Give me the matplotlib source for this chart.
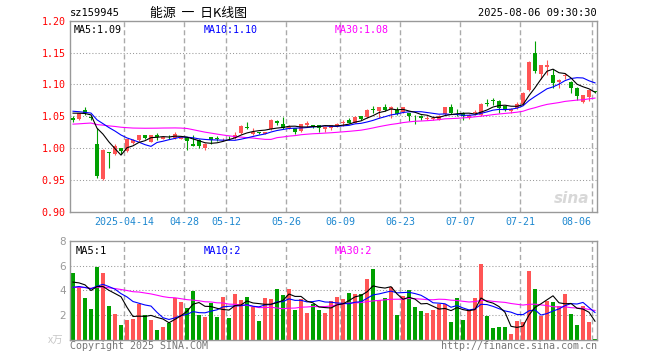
import numpy as np
import pandas as pd
import matplotlib
matplotlib.use("Agg")
import matplotlib.pyplot as plt

# ---------------- data ----------------
opens = [1.047, 1.0458, 1.0599, 1.049, 1.0065, 0.951, 0.994, 0.991, 1.000, 0.996,
         1.008, 1.0125, 1.021, 1.010, 1.021, 1.015, 1.018, 1.016, 1.015, 1.017,
         1.006, 1.013, 1.001, 1.017, 1.016, 1.014, 1.018, 1.016, 1.024, 1.034,
         1.022, 1.025, 1.023, 1.030, 1.042, 1.038, 1.031, 1.031, 1.027, 1.036,
         1.036, 1.036, 1.030, 1.032, 1.035, 1.040, 1.045, 1.040, 1.0505, 1.0495,
         1.061, 1.058, 1.065, 1.062, 1.060, 1.057, 1.0557, 1.051, 1.051, 1.046,
         1.046, 1.045, 1.053, 1.064, 1.054, 1.056, 1.048, 1.055, 1.052, 1.071,
         1.075, 1.074, 1.066, 1.058, 1.063, 1.070, 1.092, 1.149, 1.117, 1.128,
         1.1146, 1.104, 1.113, 1.104, 1.095, 1.073, 1.081, 1.089]
closes = [1.045, 1.0547, 1.0547, 1.047, 0.956, 0.998, 0.993, 1.003, 0.996, 1.014,
          1.013, 1.020, 1.016, 1.020, 1.017, 1.018, 1.017, 1.023, 1.018, 1.011,
          1.004, 1.003, 1.007, 1.0135, 1.015, 1.015, 1.017, 1.021, 1.035, 1.032,
          1.026, 1.024, 1.025, 1.044, 1.039, 1.031, 1.033, 1.026, 1.0375, 1.039,
          1.035, 1.032, 1.034, 1.036, 1.038, 1.041, 1.040, 1.0495, 1.046, 1.060,
          1.060, 1.064, 1.060, 1.064, 1.053, 1.064, 1.051, 1.050, 1.047, 1.047,
          1.047, 1.051, 1.064, 1.055, 1.053, 1.051, 1.052, 1.057, 1.070, 1.070,
          1.074, 1.0635, 1.060, 1.062, 1.069, 1.087, 1.135, 1.121, 1.130, 1.131,
          1.103, 1.107, 1.115, 1.095, 1.082, 1.083, 1.091, 1.088]
highs = [1.050, 1.055, 1.0646, 1.050, 1.031, 0.999, 0.994, 1.006, 1.000, 1.015,
         1.015, 1.021, 1.021, 1.021, 1.0235, 1.019, 1.021, 1.026, 1.019, 1.018,
         1.020, 1.014, 1.008, 1.017, 1.019, 1.016, 1.019, 1.025, 1.036, 1.0406,
         1.031, 1.026, 1.026, 1.046, 1.044, 1.049, 1.036, 1.032, 1.038, 1.042,
         1.036, 1.037, 1.035, 1.037, 1.039, 1.044, 1.048, 1.050, 1.051, 1.061,
         1.066, 1.065, 1.070, 1.066, 1.064, 1.065, 1.056, 1.052, 1.052, 1.050,
         1.049, 1.052, 1.065, 1.069, 1.061, 1.057, 1.053, 1.060, 1.071, 1.077,
         1.079, 1.075, 1.067, 1.063, 1.073, 1.088, 1.137, 1.168, 1.131, 1.138,
         1.125, 1.108, 1.118, 1.105, 1.096, 1.084, 1.092, 1.089]
lows = [1.041, 1.044, 1.052, 1.045, 0.9529, 0.950, 0.969, 0.990, 0.991, 0.994,
        1.006, 1.011, 1.015, 1.009, 1.013, 1.014, 1.015, 1.015, 1.014, 0.998,
        1.003, 1.001, 0.998, 1.007, 1.012, 1.012, 1.013, 1.015, 1.023, 1.0297,
        1.021, 1.022, 1.022, 1.029, 1.036, 1.030, 1.030, 1.022, 1.026, 1.034,
        1.031, 1.025, 1.026, 1.028, 1.034, 1.035, 1.039, 1.039, 1.045, 1.048,
        1.0557, 1.048, 1.059, 1.047, 1.052, 1.056, 1.042, 1.0375, 1.044, 1.045,
        1.045, 1.044, 1.052, 1.054, 1.051, 1.045, 1.046, 1.052, 1.051, 1.0667,
        1.068, 1.056, 1.058, 1.056, 1.062, 1.068, 1.090, 1.118, 1.109, 1.115,
        1.095, 1.094, 1.109, 1.086, 1.076, 1.071, 1.0745, 1.087]
volumes = [5.42, 4.29, 3.40, 2.52, 5.90, 5.42, 2.76, 2.12, 1.23, 1.64,
           1.72, 2.90, 2.01, 1.64, 0.83, 1.07, 1.39, 3.40, 3.08, 2.60,
           3.97, 2.04, 1.88, 3.00, 1.88, 3.49, 1.80, 3.70, 3.24, 3.49,
           2.68, 1.55, 3.40, 3.30, 4.10, 3.62, 4.10, 2.44, 3.30, 2.20,
           2.92, 2.44, 2.20, 3.14, 3.46, 3.30, 3.78, 3.70, 3.70, 4.91,
           5.71, 3.22, 3.38, 4.26, 2.01, 3.54, 4.02, 2.65, 2.33, 2.17,
           2.41, 2.90, 2.90, 1.45, 3.38, 1.61, 2.44, 3.38, 6.11, 1.96,
           0.97, 1.05, 1.05, 0.48, 1.53, 1.45, 5.55, 4.10, 1.96, 3.14,
           3.06, 2.73, 3.70, 2.09, 1.21, 2.73, 1.45, 0.08]
# sessions before the first visible bar (only feed the moving averages)
prior_close = [1.040, 1.035, 1.030, 1.028, 1.025, 1.028, 1.030, 1.032, 1.036,
               1.030, 1.025, 1.020, 1.018, 1.015, 1.012, 1.015, 1.020, 1.025,
               1.030, 1.060, 1.062, 1.065, 1.058, 1.062, 1.058,
               1.055, 1.057, 1.058, 1.060]
prior_vol = [4.5, 3.8, 4.2, 3.6, 4.4, 5.0, 3.9, 3.5, 4.1, 4.6, 3.7, 4.3, 3.9,
             4.0, 4.4, 3.6, 4.0, 5.4, 4.8, 5.2, 3.6, 4.2, 3.5, 3.9, 3.9,
             4.6, 4.2, 4.8, 4.3]
tick_idx = [9, 19, 26, 36, 45, 55, 65, 75, 87]
tick_labels = ["2025-04-14", "04-28", "05-12", "05-26", "06-09", "06-23",
               "07-07", "07-21", "08-06"]
price_ticks = [0.90, 0.95, 1.00, 1.05, 1.10, 1.15, 1.20]
vol_ticks = [2, 4, 6, 8]

# ---------------- style ----------------
RED = "#ff5555"
GREEN = "#00a000"
GRID = "#aaaaaa"
FRAME = "#999999"
MONO = "DejaVu Sans Mono"
CJK = ["Noto Sans CJK SC", "DejaVu Sans"]
MALW = 0.8

W, H = 660, 360
fig = plt.figure(figsize=(6.6, 3.6), dpi=100)
fig.patch.set_facecolor("white")


def fx(x):
    return x / W


def fy(y):
    return 1 - y / H


n = len(closes)
x = np.arange(n)
o = np.array(opens)
c = np.array(closes)
hi = np.array(highs)
lo = np.array(lows)
v = np.array(volumes)
up = c >= o
cols = np.where(up, RED, GREEN)

allc = pd.Series(prior_close + closes)
allv = pd.Series(prior_vol + volumes)
k = len(prior_close)
ma5 = allc.rolling(5).mean().values[k:]
ma10 = allc.rolling(10).mean().values[k:]
ma30 = allc.rolling(30).mean().values[k:]
vma5 = allv.rolling(5).mean().values[k:]
vma10 = allv.rolling(10).mean().values[k:]
vma30 = allv.rolling(30).mean().values[k:]

L, R = 70, 597
x0 = (L - 73) / 6.0
x1 = (R - 73) / 6.0

axp = fig.add_axes([fx(L), fy(212), fx(R - L), (212 - 20.7) / H])
axv = fig.add_axes([fx(L), fy(340), fx(R - L), (340 - 240.7) / H])

for ax in (axp, axv):
    ax.set_xlim(x0, x1)
    for s in ax.spines.values():
        s.set_color(FRAME)
        s.set_linewidth(1.0)
    for t in tick_idx:
        ax.axvline(t - 0.42, color=GRID, lw=1.0, ls=(0, (3.6, 2.2)), zorder=0)
    ax.tick_params(length=0)
    ax.set_xticks([])

# price panel
axp.set_ylim(0.90, 1.20)
for yv in price_ticks[1:-1]:
    axp.axhline(yv, color=FRAME, lw=0.75, ls=(0, (1, 2)), zorder=0)
axp.set_yticks(price_ticks)
axp.set_yticklabels([f"{t:.2f}" for t in price_ticks], color="red",
                    fontfamily=MONO, fontsize=7.2)
axp.tick_params(axis="y", pad=3)

body = np.maximum(np.abs(c - o), 0.0012)
axp.vlines(x, lo, hi, colors=cols, lw=0.8, zorder=2)
axp.bar(x, body, bottom=np.minimum(o, c), width=0.8, color=cols, lw=0, zorder=3)
axp.plot(x, ma30, color="#ff00ff", lw=MALW, zorder=4)
axp.plot(x, ma10, color="#0000ff", lw=MALW, zorder=4)
axp.plot(x, ma5, color="black", lw=MALW, zorder=4)

axp.text(0.007, 0.975, f"MA5:{ma5[-1]:.2f}", transform=axp.transAxes,
         color="black", fontfamily=MONO, fontsize=7.2, va="top", ha="left")
axp.text((204 - L) / (R - L), 0.975, f"MA10:{ma10[-1]:.2f}", transform=axp.transAxes,
         color="#0000ff", fontfamily=MONO, fontsize=7.2, va="top", ha="left")
axp.text((334.5 - L) / (R - L), 0.975, f"MA30:{ma30[-1]:.2f}", transform=axp.transAxes,
         color="#ff00ff", fontfamily=MONO, fontsize=7.2, va="top", ha="left")

# x tick labels under price panel
xt = axp.get_xaxis_transform()
for i, (t, lab) in enumerate(zip(tick_idx, tick_labels)):
    if i == len(tick_idx) - 1:
        axp.text(x1 - 1.0, -0.05, lab, transform=xt, ha="right", va="center",
                 color="#1e88d0", fontfamily=MONO, fontsize=7.2)
    else:
        axp.text(t - 0.42, -0.05, lab, transform=xt, ha="center", va="center",
                 color="#1e88d0", fontfamily=MONO, fontsize=7.2)

# sina watermark
axp.text(0.985, 0.03, "sina", transform=axp.transAxes, ha="right", va="bottom",
         color="#d8d8d8", fontsize=11, fontweight="bold", style="italic",
         fontfamily="DejaVu Sans")

# volume panel
axv.set_ylim(0, 8)
for yv in [2, 4, 6]:
    axv.axhline(yv, color=FRAME, lw=0.75, ls=(0, (1, 2)), zorder=0)
axv.set_yticks(vol_ticks)
axv.set_yticklabels([str(t) for t in vol_ticks], color="#999999",
                    fontfamily="DejaVu Sans", fontsize=7.5)
axv.tick_params(axis="y", pad=3)
axv.bar(x, v, width=0.8, color=cols, lw=0, zorder=2)
axv.plot(x, vma30, color="#ff00ff", lw=MALW, zorder=4)
axv.plot(x, vma10, color="#0000ff", lw=MALW, zorder=4)
axv.plot(x, vma5, color="black", lw=MALW, zorder=4)
axv.text(0.01, 0.95, f"MA5:{int(vma5[-1])}", transform=axv.transAxes,
         color="black", fontfamily=MONO, fontsize=7.5, va="top", ha="left")
axv.text((204 - L) / (R - L), 0.95, f"MA10:{int(vma10[-1])}", transform=axv.transAxes,
         color="#0000ff", fontfamily=MONO, fontsize=7.5, va="top", ha="left")
axv.text((334.5 - L) / (R - L), 0.95, f"MA30:{int(vma30[-1])}", transform=axv.transAxes,
         color="#ff00ff", fontfamily=MONO, fontsize=7.5, va="top", ha="left")

# header / footer texts
fig.text(fx(70), fy(13), "sz159945", fontfamily=MONO, fontsize=7.5,
         ha="left", va="center", color="black")
fig.text(fx(150), fy(13), "能源  一  日K线图", family=CJK, fontsize=9.3,
         ha="left", va="center", color="black")
fig.text(fx(597), fy(13), "2025-08-06 09:30:30", fontfamily=MONO, fontsize=7.5,
         ha="right", va="center", color="black")
fig.text(fx(70), fy(346), "Copyright 2025 SINA.COM", fontfamily=MONO, fontsize=7.2,
         ha="left", va="center", color="#777777")
fig.text(fx(597), fy(346), "http://finance.sina.com.cn", fontfamily=MONO, fontsize=7.2,
         ha="right", va="center", color="#777777")
fig.text(fx(63), fy(341), "x万", family=CJK, fontsize=7.5,
         ha="right", va="center", color="#c8c8c8")

fig.savefig("out.png", dpi=100)
